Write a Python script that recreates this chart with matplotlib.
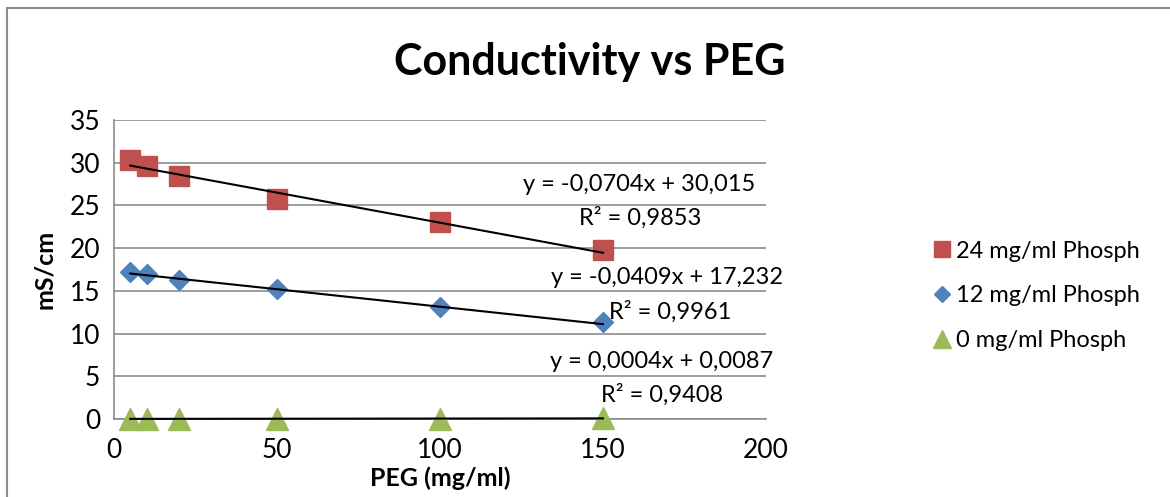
import matplotlib.pyplot as plt
import numpy as np
from matplotlib.patches import Rectangle

plt.rcParams['font.family'] = ['Lato', 'DejaVu Sans']

peg = [5, 10, 20, 50, 100, 150]
cond_24 = [30.3, 29.6, 28.4, 25.7, 23.0, 19.8]
cond_12 = [17.2, 17.0, 16.3, 15.2, 13.1, 11.3]
cond_0 = [0.01, 0.01, 0.02, 0.03, 0.05, 0.07]

# trendline coefficients (slope, intercept) as printed on the chart
fit_24 = (-0.0704, 30.015)
fit_12 = (-0.0409, 17.232)
fit_0 = (0.0004, 0.0087)
r2_values = ['0,9853', '0,9961', '0,9408']

fig = plt.figure(figsize=(11.7, 4.97), dpi=100)
ax = fig.add_axes([0.0974, 0.157, 0.5573, 0.6016])

# chart border (runs off the right and bottom edge)
fig.patches.append(Rectangle((0.006, -0.05), 1.0, 1.034, transform=fig.transFigure,
                             fill=False, edgecolor='#8c8c8c', linewidth=1.5))

xs = np.array([peg[0], peg[-1]])
for (m, b) in [fit_24, fit_12, fit_0]:
    ax.plot(xs, m * xs + b, color='black', linewidth=1.5, zorder=4, clip_on=False)

ax.plot(peg, cond_24, 's', color='#C0504D', markersize=14, label='24 mg/ml Phosph',
        zorder=3, clip_on=False)
ax.plot(peg, cond_12, 'D', color='#4F81BD', markersize=10.5, label='12 mg/ml Phosph',
        zorder=3, clip_on=False)
ax.plot(peg, cond_0, '^', color='#9BBB59', markersize=16, label='0 mg/ml Phosph',
        zorder=3, clip_on=False)

ax.set_xlim(0, 200)
ax.set_ylim(0, 35)
ax.set_xticks(np.arange(0, 201, 50))
ax.set_yticks(np.arange(0, 36, 5))
ax.grid(axis='y', color='#8c8c8c', linewidth=1.2)
ax.set_axisbelow(True)
for s in ['top', 'right']:
    ax.spines[s].set_visible(False)
ax.spines['left'].set_color('#8c8c8c')
ax.spines['bottom'].set_color('#8c8c8c')
ax.spines['left'].set_linewidth(1.2)
ax.spines['bottom'].set_linewidth(1.2)
ax.tick_params(axis='both', labelsize=19, length=0)
ax.tick_params(axis='y', pad=10)
ax.tick_params(axis='x', pad=14)

ax.set_xlabel('PEG (mg/ml)', fontsize=18, fontweight='bold', labelpad=2)
ax.set_ylabel('mS/cm', fontsize=18, fontweight='bold', labelpad=10)
fig.suptitle('Conductivity vs PEG', fontsize=31, fontweight='bold', x=0.504, y=0.915)

eq_style = dict(fontsize=17, ha='center', va='center')
ax.text(161, 27.4, 'y = -0,0704x + 30,015', **eq_style)
ax.text(161.5, 23.6, 'R² = ' + r2_values[0], **eq_style)
ax.text(169.5, 16.6, 'y = -0,0409x + 17,232', **eq_style)
ax.text(170.5, 12.5, 'R² = ' + r2_values[1], **eq_style)
ax.text(168, 6.7, 'y = 0,0004x + 0,0087', **eq_style)
ax.text(168, 2.8, 'R² = ' + r2_values[2], **eq_style)

fig.legend(loc='center left', bbox_to_anchor=(0.776, 0.405), frameon=False,
           fontsize=17, handletextpad=0.05, labelspacing=1.0, markerscale=0.8,
           handlelength=1.1)

fig.savefig('out.png', dpi=100)
